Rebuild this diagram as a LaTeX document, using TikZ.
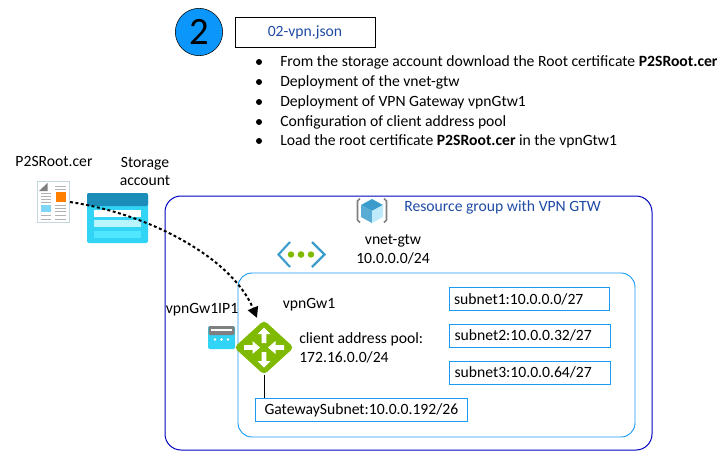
\documentclass[tikz,border=0pt]{standalone}
\usepackage{fontspec}
\setmainfont{Carlito}
\usetikzlibrary{positioning,arrows.meta,shapes.geometric,calc}
\definecolor{rgblue}{HTML}{0000BF}
\definecolor{vnetblue}{HTML}{1A9AF5}
\definecolor{circblue}{HTML}{0A96FA}
\definecolor{jsonblue}{HTML}{1F4BA5}
\definecolor{gwgreen}{HTML}{7FB900}
\definecolor{stdark}{HTML}{1C8DB8}
\definecolor{stmid}{HTML}{32D4F5}
\definecolor{stlight}{HTML}{50E6FF}
\definecolor{chevblue}{HTML}{3C9DCC}
\tikzstyle{txt}=[inner sep=0pt, font=\fontsize{11.75}{14.2}\selectfont, align=center]
\tikzstyle{bul}=[txt, anchor=west]
\tikzstyle{dotb}=[circle, fill=black, inner sep=0pt, minimum size=4.5pt]
\tikzstyle{subnetbox}=[rectangle, draw=vnetblue, fill=white, line width=0.75pt, minimum height=17.25pt,
                    inner ysep=0pt, inner xsep=3.75pt, align=left, font=\fontsize{11.75}{14.2}\selectfont]
\tikzstyle{pline}=[-, line width=0.6pt]
\tikzstyle{dline}=[-{Triangle[length=8pt,width=8pt]}, line width=1.5pt, dash pattern=on 2.2pt off 1.9pt]
\begin{document}
\begin{tikzpicture}[x=0.75pt,y=-0.75pt]
\useasboundingbox (0,0) rectangle (726,468);

\node (STEP) [circle, draw=black, fill=circblue, minimum size=35.5pt, inner sep=0pt,
 font=\fontsize{29}{30}\selectfont] at (199,32) {2};
\node (JSON) [rectangle, draw=black, line width=0.7pt, minimum width=105pt, minimum height=22pt, inner sep=0pt,
 text=jsonblue, font=\fontsize{11.75}{14.2}\selectfont] at (305,32.5) {02-vpn.json};

\node (L1) [bul] at (280,62) {From the storage account download the Root certificate \textbf{P2SRoot.cer}};
\node (L2) [bul] at (280,82) {Deployment of the vnet-gtw};
\node (L3) [bul] at (280,102) {Deployment of VPN Gateway vpnGtw1};
\node (L4) [bul] at (280,122) {Configuration of client address pool};
\node (L5) [bul] at (280,141) {Load the root certificate \textbf{P2SRoot.cer} in the vpnGtw1};
\foreach \n in {L1,L2,L3,L4,L5}
 \node [dotb] at ($(\n.west)+(-21,0)$) {};

% resource group and vnet
\node (RG) [rectangle, draw=rgblue, line width=0.75pt, rounded corners=12pt, minimum width=365.25pt,
 minimum height=190.5pt, inner sep=0pt] at (408.5,323) {};
\node (VNET) [rectangle, draw=vnetblue, line width=0.7pt, rounded corners=10.5pt, minimum width=297.75pt,
 minimum height=123pt, inner sep=0pt] at (436.5,355) {};
\node (RGTXT) [txt, text=jsonblue, anchor=west] at (404,207) {Resource group with VPN GTW};
\node (VNETTXT) [txt] at (393,249) {vnet-gtw\\10.0.0.0/24};

% subnets
\node (SUB1) [subnetbox, text width=112.5pt] at (529,299) {subnet1:10.0.0.0/27};
\node (SUB2) [subnetbox, text width=113.25pt] at (530,335.5) {subnet2:10.0.0.32/27};
\node (SUB3) [subnetbox, text width=113.25pt] at (530,372.5) {subnet3:10.0.0.64/27};
\node (GWSUB) [subnetbox, inner xsep=6.75pt, text width=145.5pt] at (361.5,410) {GatewaySubnet:10.0.0.192/26};

% certificate
\node (CERT) [rectangle, draw=cyan!30!gray!40, fill=white, thick, minimum width=24pt, minimum height=31pt,
 inner sep=0pt] at (53.5,202) {};
\fill[gray] (39,191) -- (47.5,183) -- (47.5,191) -- cycle;
\fill[orange] (56,192) rectangle (65.5,202);
\fill[cyan!50] (41,205) rectangle (51,212);
\foreach \y in {193,196,199,202,215,219}
 \draw[gray!60, line width=0.6pt] (41,\y) -- (51,\y);
\foreach \y in {186,189,205,208,211,215,219}
 \draw[gray!60, line width=0.6pt] (55,\y) -- (66,\y);
\node (CERTTXT) [txt] at (54,161) {P2SRoot.cer};

% storage account
\node (STOR) [rectangle, rounded corners=1.5pt, fill=stmid, minimum width=45.75pt, minimum height=37.5pt,
 inner sep=0pt] at (117.5,218) {};
\fill[stdark, rounded corners=1.5pt] (87,206) -- (87,193) -- (148,193) -- (148,206) -- cycle;
\fill[white] (94,210) rectangle (141,217);
\fill[white!60!stlight] (94,220) rectangle (141,227);
\fill[stlight] (94,231) rectangle (141,238);
\node (STORTXT) [txt] at (145,171.5) {Storage\\account};

% resource group icon
\node (RGICON) [rectangle, inner sep=0pt, minimum width=23pt, minimum height=19pt] at (371.5,210.5) {};
\fill[chevblue] (372,199) -- (383,205) -- (372,211) -- (361,205) -- cycle;
\fill[chevblue!85!white] (361,205) -- (372,211) -- (372,223) -- (361,217) -- cycle;
\fill[cyan!25] (372,211) -- (383,205) -- (383,217) -- (372,223) -- cycle;
\draw[gray, line width=1.2pt] (360,198.5) -- (357.5,201) -- (357.5,220) -- (360,222.5);
\draw[gray, line width=1.2pt] (384,198.5) -- (386.5,201) -- (386.5,220) -- (384,222.5);

% vnet icon
\node (VNETICON) [circle, fill=gwgreen, inner sep=0pt, minimum size=5pt] at (301,254.5) {};
\fill[gwgreen] (291,254.5) circle (3.2) (311,254.5) circle (3.2);
\draw[chevblue, line width=1.6pt] (290,242) -- (278.5,254.5) -- (290,267);
\draw[chevblue, line width=1.6pt] (312,242) -- (324.5,254.5) -- (312,267);

% public ip icon
\node (PIP) [rectangle, rounded corners=1pt, fill=stmid, minimum width=20.25pt, minimum height=17.25pt,
 inner sep=0pt] at (221.5,337.5) {};
\fill[gray, rounded corners=1pt] (208.5,335) -- (208.5,326) -- (234.5,326) -- (234.5,335) -- cycle;
\fill[white] (211,328.5) rectangle (232,331);
\foreach \x in {215,221.5,228}
 \fill[white] (\x,339.5) circle (1.4);
\node (PIPTXT) [txt] at (202,310) {vpnGw1IP1};

% vpn gateway
\node (VPNGW) [diamond, fill=gwgreen, rounded corners=3pt, minimum width=45pt, minimum height=41pt,
 inner sep=0pt] at (264,347.5) {};
\foreach \a in {0,180}{
 \fill[white, rotate around={\a:(VPNGW.center)}]
  (261.7,343) -- (261.7,334) -- (257.5,334) -- (264,327.5) -- (270.5,334) -- (266.3,334) -- (266.3,343) -- cycle;
 \fill[white, rotate around={\a:(VPNGW.center)}]
  (244,345.2) -- (252.5,345.2) -- (252.5,341) -- (260,347.5) -- (252.5,354) -- (252.5,349.8) -- (244,349.8) -- cycle;
}
\node (GWTXT) [txt] at (309,305) {vpnGw1};
\node (POOLTXT) [txt, align=left, anchor=west] at (299,348) {client address pool:\\172.16.0.0/24};

\draw[pline] (VPNGW.south) -- (VPNGW.south |- GWSUB.north);
\draw[dline] (CERT.east) .. controls (150,214) and (232,258) .. ($(VPNGW.north)+(-7,-2)$);

\end{tikzpicture}
\end{document}
